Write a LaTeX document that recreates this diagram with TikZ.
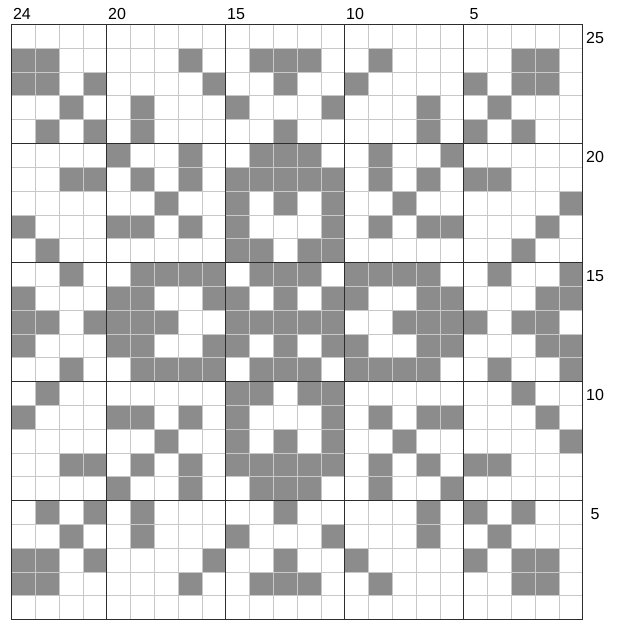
\documentclass[tikz,border=0pt]{standalone}
\usepackage{fontspec}
\setmainfont{Liberation Sans}
\definecolor{cellgray}{RGB}{140,140,140}
\definecolor{thingrid}{RGB}{200,200,200}
\definecolor{thickgrid}{RGB}{45,45,45}
\tikzset{
  cell/.style={fill=cellgray},
  thinline/.style={draw=thingrid,line width=0.8pt},
  thickline/.style={draw=thickgrid,line width=1.3pt},
  toplabel/.style={anchor=base,inner sep=0pt,font=\fontsize{16}{18}\selectfont},
  sidelabel/.style={anchor=center,inner sep=0pt,font=\fontsize{16}{18}\selectfont},
}
\begin{document}
\begin{tikzpicture}[x=1pt,y=-1pt]
\useasboundingbox (0,0) rectangle (618,623);
\fill[white] (0,0) rectangle (618,623);
\def\L{11.5}\def\T{24.5}\def\S{23.8}
% filled cells: row (from top) / columns (from left)
\foreach \r/\cl in {
  2/{1,2,8,11,12,13,16,22,23},
  3/{1,2,4,9,12,15,20,22,23},
  4/{3,6,10,14,18,21},
  5/{2,4,6,12,18,20,22},
  6/{5,8,11,12,13,16,19},
  7/{3,4,6,8,10,11,12,13,14,16,18,20,21},
  8/{7,10,12,14,17,24},
  9/{1,5,6,8,10,14,16,18,19,23},
  10/{2,10,11,13,14,22},
  11/{3,6,7,8,9,11,12,13,15,16,17,18,21,24},
  12/{1,5,6,9,10,12,14,15,18,19,23,24},
  13/{1,2,4,5,6,7,10,11,12,13,14,17,18,19,20,22,23},
  14/{1,5,6,9,10,12,14,15,18,19,23,24},
  15/{3,6,7,8,9,11,12,13,15,16,17,18,21,24},
  16/{2,10,11,13,14,22},
  17/{1,5,6,8,10,14,16,18,19,23},
  18/{7,10,12,14,17,24},
  19/{3,4,6,8,10,11,12,13,14,16,18,20,21},
  20/{5,8,11,12,13,16,19},
  21/{2,4,6,12,18,20,22},
  22/{3,6,10,14,18,21},
  23/{1,2,4,9,12,15,20,22,23},
  24/{1,2,8,11,12,13,16,22,23}}{
  \foreach \c in \cl {
    \fill[cell] ({\L+(\c-1)*\S},{\T+(\r-1)*\S}) rectangle ++(\S,\S);
  }
}
% thin grid
\foreach \i in {1,...,23} {
  \draw[thinline] ({\L+\i*\S},\T) -- ({\L+\i*\S},{\T+25*\S});
}
\foreach \j in {1,...,24} {
  \draw[thinline] (\L,{\T+\j*\S}) -- ({\L+24*\S},{\T+\j*\S});
}
% thick grid
\foreach \i in {0,4,9,14,19,24} {
  \draw[thickline] ({\L+\i*\S},\T) -- ({\L+\i*\S},{\T+25*\S});
}
\foreach \j in {0,5,10,15,20,25} {
  \draw[thickline] (\L,{\T+\j*\S}) -- ({\L+24*\S},{\T+\j*\S});
}
% column labels
\node[toplabel] (c24) at ({\L+0.5*\S-1.5},20) {24};
\node[toplabel] (c20) at ({\L+4.5*\S-1.5},20) {20};
\node[toplabel] (c15) at ({\L+9.5*\S-1.5},20) {15};
\node[toplabel] (c10) at ({\L+14.5*\S-1.5},20) {10};
\node[toplabel] (c5) at ({\L+19.5*\S-1.5},20) {5};
% row labels
\node[sidelabel] (r25) at (595,{\T+0.5*\S+1.5}) {25};
\node[sidelabel] (r20) at (595,{\T+5.5*\S+1.5}) {20};
\node[sidelabel] (r15) at (595,{\T+10.5*\S+1.5}) {15};
\node[sidelabel] (r10) at (595,{\T+15.5*\S+1.5}) {10};
\node[sidelabel] (r5) at (595,{\T+20.5*\S+1.5}) {5};
\end{tikzpicture}
\end{document}
